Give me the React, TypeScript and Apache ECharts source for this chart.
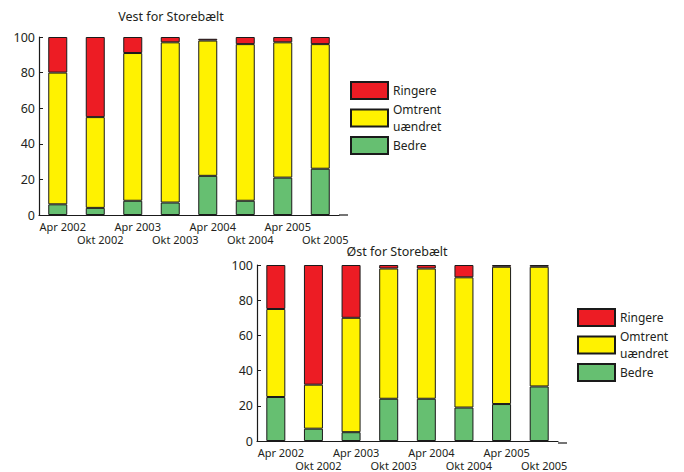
import React, { useEffect, useRef } from "react";
import * as echarts from "echarts";

const categories = ["Apr 2002", "Okt 2002", "Apr 2003", "Okt 2003", "Apr 2004", "Okt 2004", "Apr 2005", "Okt 2005"];
const yTicks = [0, 20, 40, 60, 80, 100];

const vestBedre = [6, 4, 8, 7, 22, 8, 21, 26];
const vestOmtrent = [74, 51, 83, 90, 76, 88, 76, 70];
const vestRingere = [20, 45, 9, 3, 1, 4, 3, 4];

const ostBedre = [25, 7, 5, 24, 24, 19, 21, 31];
const ostOmtrent = [50, 25, 65, 74, 74, 74, 78, 68];
const ostRingere = [25, 68, 30, 2, 2, 7, 1, 1];

const titles = ["Vest for Storebælt", "Øst for Storebælt"];
const seriesNames = ["Bedre", "Omtrent uændret", "Ringere"];
const colors = ["#66BF71", "#FFF200", "#ED1C24"];

const FONT = "Noto Sans";
const TEXT = "#231F20";

export default function App() {
  const ref = useRef<HTMLDivElement>(null);
  useEffect(() => {
    document.body.style.margin = "0";
    const chart = echarts.init(ref.current!, null, { renderer: "svg" });
    const grids = [
      { left: 39, top: 37, width: 300, height: 178 },
      { left: 257, top: 265, width: 301, height: 178 },
    ];
    const data = [
      [vestBedre, vestOmtrent, vestRingere],
      [ostBedre, ostOmtrent, ostRingere],
    ];
    const series: any[] = [];
    data.forEach((set, gi) => {
      set.forEach((vals, si) => {
        series.push({
          type: "bar",
          name: seriesNames[si],
          stack: "s" + gi,
          xAxisIndex: gi,
          yAxisIndex: gi,
          barWidth: 19,
          data: vals,
          itemStyle: { color: colors[si], borderColor: "#1a1a1a", borderWidth: 1 },
        });
      });
    });
    const xAxis = grids.map((_, gi) => ({
      type: "category",
      gridIndex: gi,
      data: categories,
      axisTick: { show: false },
      axisLine: { lineStyle: { color: "#1a1a1a", width: 1.2 } },
      axisLabel: {
        interval: 0,
        margin: 5,
        fontFamily: FONT,
        fontSize: 11,
        color: TEXT,
        lineHeight: 13,
        padding: [0, 0, 0, 10],
        formatter: (v: string, i: number) => (i % 2 ? "\n" + v : v),
      },
    }));
    const yAxis = grids.map((_, gi) => ({
      type: "value",
      gridIndex: gi,
      min: 0,
      max: 100,
      interval: 20,
      splitLine: { show: false },
      axisLine: { show: true, lineStyle: { color: "#1a1a1a", width: 1.2 } },
      axisTick: { show: true, inside: true, length: 4, lineStyle: { color: "#1a1a1a" } },
      axisLabel: {
        fontFamily: FONT,
        fontSize: 12.5,
        color: TEXT,
        margin: 4,
        formatter: (v: number) => (yTicks.includes(v) ? String(v) : ""),
      },
    }));
    const legendBase = {
      orient: "vertical",
      padding: 0,
      itemWidth: 37,
      itemHeight: 17,
      itemGap: 1,
      selectedMode: false,
      icon: "rect",
      data: ["Ringere", "Omtrent uændret", "Bedre"],
      formatter: (n: string) => n.replace(" ", "\n"),
      textStyle: { fontFamily: FONT, fontSize: 12, color: TEXT, lineHeight: 17 },
    };
    const axisExt = grids.map((g) => ({
      type: "line",
      silent: true,
      shape: { x1: g.left + g.width, y1: g.top + g.height, x2: g.left + g.width + 9, y2: g.top + g.height },
      style: { stroke: "#1a1a1a", lineWidth: 1.2 },
    }));
    chart.setOption({
      animation: false,
      title: [
        { text: titles[0], left: 171, top: 10, textAlign: "center", padding: 0,
          textStyle: { fontFamily: FONT, fontSize: 12.5, fontWeight: "normal", color: TEXT } },
        { text: titles[1], left: 397, top: 245, textAlign: "center", padding: 0,
          textStyle: { fontFamily: FONT, fontSize: 12.5, fontWeight: "normal", color: TEXT } },
      ],
      legend: [
        { ...legendBase, left: 350, top: 81 },
        { ...legendBase, left: 577, top: 308 },
      ],
      grid: grids,
      xAxis,
      yAxis,
      series,
      graphic: axisExt,
    });
    return () => chart.dispose();
  }, []);
  return <div ref={ref} style={{ width: 684, height: 472 }} />;
}
